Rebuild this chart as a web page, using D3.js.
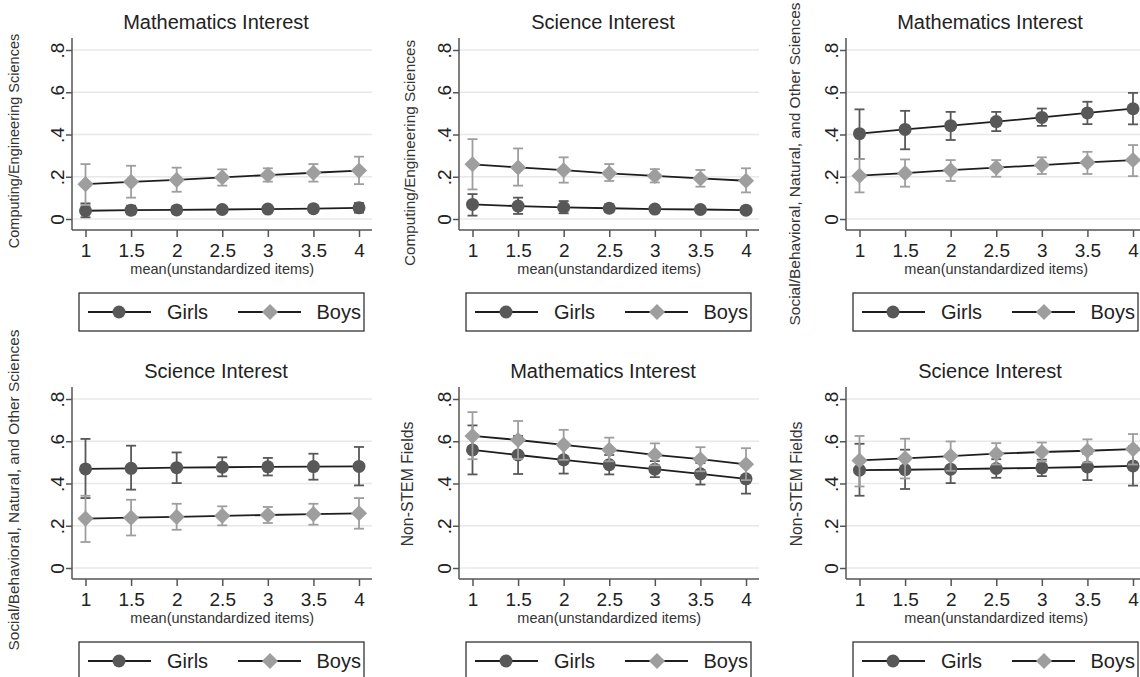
<!DOCTYPE html>
<html>
<head>
<meta charset="utf-8">
<script src="https://cdn.jsdelivr.net/npm/d3@7"></script>
<style>
  body { margin: 0; background: #fff; }
  svg { display: block; font-family: "Liberation Sans", Arial, sans-serif; }
</style>
</head>
<body>
<script>
// x levels and y ticks shared by every panel
var xLevels = [1, 1.5, 2, 2.5, 3, 3.5, 4];
var xTickLabels = ["1", "1.5", "2", "2.5", "3", "3.5", "4"];
var yTicks = [0, 0.2, 0.4, 0.6, 0.8];
var yTickLabels = ["0", ".2", ".4", ".6", ".8"];
var seriesNames = ["Girls", "Boys"];

// Mathematics interest -> Computing/Engineering
var girlsMathComp   = [0.039, 0.042, 0.043, 0.045, 0.047, 0.049, 0.053];
var girlsMathCompLo = [0.008, 0.022, 0.027, 0.031, 0.034, 0.034, 0.030];
var girlsMathCompHi = [0.074, 0.063, 0.060, 0.059, 0.060, 0.064, 0.076];
var boysMathComp    = [0.165, 0.176, 0.185, 0.197, 0.208, 0.219, 0.229];
var boysMathCompLo  = [0.066, 0.101, 0.129, 0.158, 0.177, 0.177, 0.165];
var boysMathCompHi  = [0.260, 0.252, 0.243, 0.235, 0.240, 0.260, 0.295];

// Science interest -> Computing/Engineering
var girlsSciComp   = [0.069, 0.061, 0.055, 0.051, 0.047, 0.045, 0.042];
var girlsSciCompLo = [0.016, 0.024, 0.027, 0.032, 0.032, 0.031, 0.028];
var girlsSciCompHi = [0.118, 0.101, 0.085, 0.070, 0.062, 0.060, 0.058];
var boysSciComp    = [0.259, 0.244, 0.231, 0.216, 0.204, 0.192, 0.181];
var boysSciCompLo  = [0.140, 0.158, 0.172, 0.180, 0.173, 0.153, 0.126];
var boysSciCompHi  = [0.378, 0.334, 0.292, 0.260, 0.236, 0.232, 0.240];

// Mathematics interest -> Social/Behavioral
var girlsMathSoc   = [0.404, 0.424, 0.442, 0.461, 0.481, 0.502, 0.522];
var girlsMathSocLo = [0.284, 0.330, 0.374, 0.416, 0.441, 0.449, 0.448];
var girlsMathSocHi = [0.519, 0.512, 0.507, 0.507, 0.523, 0.555, 0.597];
var boysMathSoc    = [0.205, 0.217, 0.231, 0.243, 0.255, 0.268, 0.279];
var boysMathSocLo  = [0.126, 0.153, 0.180, 0.200, 0.213, 0.213, 0.203];
var boysMathSocHi  = [0.284, 0.282, 0.279, 0.279, 0.292, 0.318, 0.350];

// Science interest -> Social/Behavioral
var girlsSciSoc   = [0.469, 0.472, 0.475, 0.477, 0.479, 0.480, 0.481];
var girlsSciSocLo = [0.331, 0.371, 0.402, 0.434, 0.438, 0.418, 0.391];
var girlsSciSocHi = [0.611, 0.579, 0.547, 0.524, 0.521, 0.541, 0.573];
var boysSciSoc    = [0.234, 0.238, 0.242, 0.247, 0.251, 0.255, 0.259];
var boysSciSocLo  = [0.123, 0.154, 0.181, 0.202, 0.213, 0.205, 0.186];
var boysSciSocHi  = [0.342, 0.323, 0.304, 0.292, 0.289, 0.304, 0.331];

// Mathematics interest -> Non-STEM
var girlsMathNon   = [0.559, 0.535, 0.512, 0.489, 0.468, 0.446, 0.422];
var girlsMathNonLo = [0.443, 0.445, 0.447, 0.443, 0.430, 0.395, 0.352];
var girlsMathNonHi = [0.675, 0.625, 0.577, 0.535, 0.506, 0.497, 0.492];
var boysMathNon    = [0.625, 0.606, 0.583, 0.560, 0.536, 0.515, 0.491];
var boysMathNonLo  = [0.515, 0.516, 0.512, 0.505, 0.486, 0.458, 0.416];
var boysMathNonHi  = [0.738, 0.696, 0.654, 0.617, 0.590, 0.572, 0.567];

// Science interest -> Non-STEM
var girlsSciNon   = [0.463, 0.465, 0.468, 0.471, 0.474, 0.478, 0.483];
var girlsSciNonLo = [0.342, 0.374, 0.402, 0.427, 0.435, 0.416, 0.390];
var girlsSciNonHi = [0.588, 0.560, 0.535, 0.515, 0.513, 0.540, 0.576];
var boysSciNon    = [0.509, 0.519, 0.530, 0.541, 0.549, 0.555, 0.563];
var boysSciNonLo  = [0.386, 0.424, 0.460, 0.490, 0.504, 0.500, 0.490];
var boysSciNonHi  = [0.625, 0.612, 0.599, 0.591, 0.594, 0.609, 0.634];

var girlsColor = "#585858", boysColor = "#9e9e9e", lineColor = "#1e1e1e";

// panel layout: ax = y axis x, y0 = pixel row of value 0, ytitle placement
var panels = [
  {title: "Mathematics Interest", ytitle: "Computing/Engineering Sciences", ax: 72, y0: 219, tx: 19, ty: 141, ts: 14.5,
   g: [girlsMathComp, girlsMathCompLo, girlsMathCompHi], b: [boysMathComp, boysMathCompLo, boysMathCompHi]},
  {title: "Science Interest", ytitle: "Computing/Engineering Sciences", ax: 459, y0: 219, tx: 415, ty: 153, ts: 15.3,
   g: [girlsSciComp, girlsSciCompLo, girlsSciCompHi], b: [boysSciComp, boysSciCompLo, boysSciCompHi]},
  {title: "Mathematics Interest", ytitle: "Social/Behavioral, Natural, and Other Sciences", ax: 846, y0: 219, tx: 800, ty: 164, ts: 15.5,
   g: [girlsMathSoc, girlsMathSocLo, girlsMathSocHi], b: [boysMathSoc, boysMathSocLo, boysMathSocHi]},
  {title: "Science Interest", ytitle: "Social/Behavioral, Natural, and Other Sciences", ax: 72, y0: 568, tx: 19, ty: 490, ts: 15.4,
   g: [girlsSciSoc, girlsSciSocLo, girlsSciSocHi], b: [boysSciSoc, boysSciSocLo, boysSciSocHi]},
  {title: "Mathematics Interest", ytitle: "Non-STEM Fields", ax: 459, y0: 568, tx: 413, ty: 484, ts: 15.8,
   g: [girlsMathNon, girlsMathNonLo, girlsMathNonHi], b: [boysMathNon, boysMathNonLo, boysMathNonHi]},
  {title: "Science Interest", ytitle: "Non-STEM Fields", ax: 846, y0: 568, tx: 802, ty: 484, ts: 15.8,
   g: [girlsSciNon, girlsSciNonLo, girlsSciNonHi], b: [boysSciNon, boysSciNonLo, boysSciNonHi]}
];

var svg = d3.select("body").append("svg")
    .attr("width", 1140)
    .attr("height", 677);

var diamond = d3.symbol().type(d3.symbolSquare).size(130);

function drawMarker(sel, isBoys, color) {
  if (isBoys) {
    sel.append("path").attr("d", diamond).attr("transform", function(d) { return d.t + " rotate(45)"; })
      .attr("fill", color);
  } else {
    sel.append("circle").attr("r", 6.5).attr("fill", color)
      .attr("transform", function(d) { return d.t; });
  }
}

panels.forEach(function(p) {
  var g = svg.append("g");
  var x = d3.scaleLinear().domain([1, 4]).range([p.ax + 13.5, p.ax + 287]);
  var y = d3.scaleLinear().domain([0, 0.8]).range([p.y0, p.y0 - 169]);

  // grid
  g.selectAll("line.grid").data(yTicks).enter().append("line")
    .attr("x1", p.ax).attr("x2", p.ax + 300)
    .attr("y1", function(d) { return y(d); }).attr("y2", function(d) { return y(d); })
    .attr("stroke", "#e8e8e8").attr("stroke-width", 1.5);

  // axis lines
  g.append("line").attr("x1", p.ax).attr("x2", p.ax).attr("y1", p.y0 - 181).attr("y2", p.y0 + 11)
    .attr("stroke", "#555").attr("stroke-width", 1.5);
  g.append("line").attr("x1", p.ax).attr("x2", p.ax + 300).attr("y1", p.y0 + 11).attr("y2", p.y0 + 11)
    .attr("stroke", "#555").attr("stroke-width", 1.5);

  var yAxis = g.append("g").attr("transform", "translate(" + p.ax + ",0)")
    .call(d3.axisLeft(y).tickValues(yTicks).tickSize(6)
      .tickFormat(function(d, i) { return yTickLabels[i]; }));
  yAxis.select(".domain").remove();
  yAxis.selectAll(".tick line").attr("stroke", "#555").attr("stroke-width", 1.5);
  yAxis.selectAll(".tick text")
    .attr("transform", "rotate(-90)").attr("x", 0).attr("y", -8.5).attr("dy", 0)
    .attr("text-anchor", "middle").attr("fill", "#222")
    .style("font-size", "19px").style("font-family", "Liberation Sans, Arial, sans-serif");

  var xAxis = g.append("g").attr("transform", "translate(0," + (p.y0 + 11) + ")")
    .call(d3.axisBottom(x).tickValues(xLevels).tickSize(7).tickPadding(6.5)
      .tickFormat(function(d, i) { return xTickLabels[i]; }));
  xAxis.select(".domain").remove();
  xAxis.selectAll(".tick line").attr("stroke", "#555").attr("stroke-width", 1.5);
  xAxis.selectAll(".tick text").attr("fill", "#222")
    .style("font-size", "19px").style("font-family", "Liberation Sans, Arial, sans-serif");

  // titles
  g.append("text").attr("x", p.ax + 144).attr("y", p.y0 - 190).attr("text-anchor", "middle")
    .attr("fill", "#222").style("font-size", "20px").text(p.title);
  g.append("text").attr("x", (x(1) + x(4)) / 2).attr("y", p.y0 + 55).attr("text-anchor", "middle")
    .attr("fill", "#333").style("font-size", "14.5px").text("mean(unstandardized items)");
  g.append("text").attr("transform", "translate(" + p.tx + "," + p.ty + ") rotate(-90)")
    .attr("text-anchor", "middle").attr("fill", "#333").style("font-size", p.ts + "px").text(p.ytitle);

  // series: girls then boys
  [[p.g, girlsColor, false], [p.b, boysColor, true]].forEach(function(s) {
    var vals = s[0][0], lo = s[0][1], hi = s[0][2], color = s[1];
    var pts = xLevels.map(function(xv, i) {
      return {x: xv, v: vals[i], lo: lo[i], hi: hi[i], t: "translate(" + x(xv) + "," + y(vals[i]) + ")"};
    });
    var eb = g.append("g");
    eb.selectAll("line.bar").data(pts).enter().append("line")
      .attr("x1", function(d) { return x(d.x); }).attr("x2", function(d) { return x(d.x); })
      .attr("y1", function(d) { return y(d.lo); }).attr("y2", function(d) { return y(d.hi); })
      .attr("stroke", color).attr("stroke-width", 1.8);
    ["lo", "hi"].forEach(function(k) {
      eb.selectAll("line.cap" + k).data(pts).enter().append("line")
        .attr("x1", function(d) { return x(d.x) - 5; }).attr("x2", function(d) { return x(d.x) + 5; })
        .attr("y1", function(d) { return y(d[k]); }).attr("y2", function(d) { return y(d[k]); })
        .attr("stroke", color).attr("stroke-width", 1.8);
    });
    g.append("path").datum(pts)
      .attr("d", d3.line().x(function(d) { return x(d.x); }).y(function(d) { return y(d.v); }))
      .attr("fill", "none").attr("stroke", lineColor).attr("stroke-width", 1.8);
    var mk = g.append("g").selectAll("g").data(pts).enter().append("g");
    drawMarker(mk, s[2], color);
  });

  // legend
  var L = p.ax + 7, T = p.y0 + 74;
  var lg = g.append("g");
  lg.append("rect").attr("x", L).attr("y", T).attr("width", 285).attr("height", 38)
    .attr("fill", "#fff").attr("stroke", "#333").attr("stroke-width", 1.3);
  var cy = T + 19;
  lg.append("line").attr("x1", L + 9).attr("x2", L + 72).attr("y1", cy).attr("y2", cy)
    .attr("stroke", lineColor).attr("stroke-width", 1.8);
  lg.append("line").attr("x1", L + 159).attr("x2", L + 222).attr("y1", cy).attr("y2", cy)
    .attr("stroke", lineColor).attr("stroke-width", 1.8);
  drawMarker(lg.append("g").datum({t: "translate(" + (L + 40) + "," + cy + ")"}), false, girlsColor);
  drawMarker(lg.append("g").datum({t: "translate(" + (L + 191) + "," + cy + ")"}), true, boysColor);
  lg.append("text").attr("x", L + 88).attr("y", cy + 7).attr("fill", "#222")
    .style("font-size", "20px").text(seriesNames[0]);
  lg.append("text").attr("x", L + 282).attr("y", cy + 7).attr("text-anchor", "end").attr("fill", "#222")
    .style("font-size", "20px").text(seriesNames[1]);
});
</script>
</body>
</html>
